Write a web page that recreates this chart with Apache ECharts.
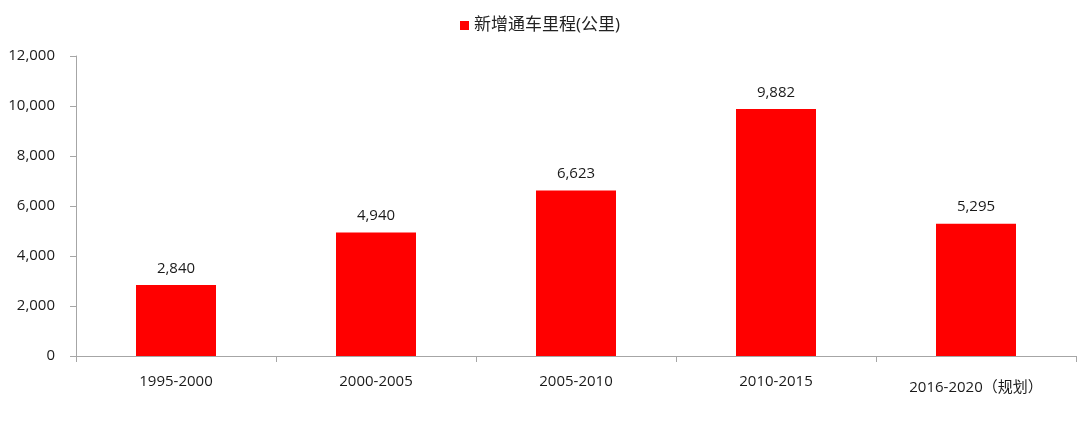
<!DOCTYPE html>
<html><head><meta charset="utf-8">
<script src="https://cdn.jsdelivr.net/npm/echarts@6/dist/echarts.min.js"></script>
<style>html,body{margin:0;padding:0;background:#fff}#c{width:1080px;height:421px}</style>
</head><body><div id="c"></div>
<script>
const categories = ['1995-2000','2000-2005','2005-2010','2010-2015','2016-2020（规划）'];
const values = [2840, 4940, 6623, 9882, 5295];
const seriesName = '新增通车里程(公里)';
const font = '"Open Sans","Noto Sans CJK SC",sans-serif';
const chart = echarts.init(document.getElementById('c'), null, {renderer:'canvas'});
const catData = categories.map((c,i)=> i===categories.length-1
  ? {value:c, textStyle:{padding:[6,0,0,0], fontSize:15}} : c);
chart.setOption({
  animation:false,
  backgroundColor:'#fff',
  textStyle:{fontFamily:font},
  legend:{top:12,left:'center',itemWidth:9,itemHeight:9,itemGap:7,icon:'rect',
    textStyle:{fontSize:17,color:'#222',fontFamily:font},data:[seriesName]},
  grid:{left:76,right:4,top:56,bottom:65,containLabel:false},
  xAxis:{type:'category',data:catData,
    axisLine:{lineStyle:{color:'#a6a6a6'}},
    axisTick:{show:true,alignWithLabel:false,length:6,lineStyle:{color:'#a6a6a6'}},
    axisLabel:{color:'#1a1a1a',fontSize:15,margin:18,fontFamily:font}},
  yAxis:{type:'value',min:0,max:12000,interval:2000,
    axisLine:{show:true,lineStyle:{color:'#a6a6a6'}},
    axisTick:{show:true,length:6,lineStyle:{color:'#a6a6a6'}},
    splitLine:{show:false},
    axisLabel:{color:'#1a1a1a',fontSize:15,margin:21,fontFamily:font,
      formatter:v=>v.toLocaleString('en-US')}},
  series:[{name:seriesName,type:'bar',data:values,barWidth:'40%',
    itemStyle:{color:'#ff0000'},
    label:{show:true,position:'top',distance:9,color:'#1a1a1a',fontSize:15,fontFamily:font,
      formatter:p=>p.value.toLocaleString('en-US')}}]
});
</script></body></html>
